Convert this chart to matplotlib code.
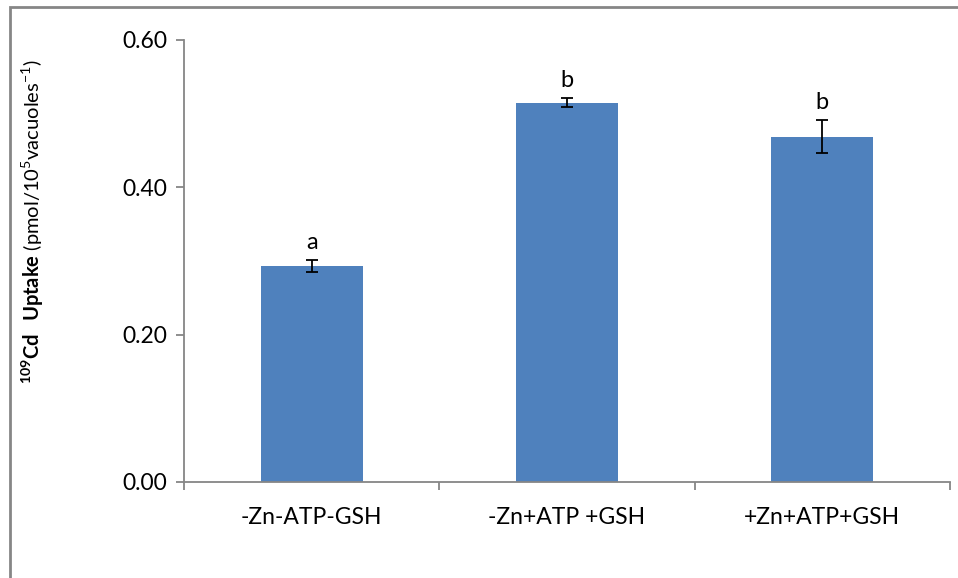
import matplotlib
matplotlib.use("Agg")
import matplotlib.pyplot as plt
import numpy as np
from matplotlib.patches import Rectangle

treatments = ['-Zn-ATP-GSH', '-Zn+ATP +GSH', '+Zn+ATP+GSH']
uptake = [0.293, 0.515, 0.469]
sem = [0.008, 0.006, 0.023]
letters = ['a', 'b', 'b']

plt.rcParams['font.family'] = 'Lato'
plt.rcParams['font.size'] = 16.5
plt.rcParams['mathtext.fontset'] = 'custom'
plt.rcParams['mathtext.rm'] = 'Lato'
plt.rcParams['mathtext.bf'] = 'Lato:bold'

grey = '#868686'
fig = plt.figure(figsize=(9.58, 5.78), dpi=100)
ax = fig.add_axes([184/958, 1-482/578, (950-184)/958, (482-40)/578])

# outer chart border (Excel style)
fig.patches.append(Rectangle((10/958, -0.1), 1.2, 1-7/578+0.1, transform=fig.transFigure,
                             fill=False, edgecolor=grey, linewidth=2))

x = np.arange(len(treatments))
ax.bar(x, uptake, 0.4, color='#4F81BD', zorder=2)
ax.errorbar(x, uptake, yerr=sem, fmt='none', ecolor='black', elinewidth=1.3,
            capsize=4.5, capthick=1.3, zorder=3)
for xi, v, e, l in zip(x, uptake, sem, letters):
    ax.annotate(l, (xi, v+e), xytext=(0, 5), textcoords='offset points',
                ha='center', va='bottom', fontsize=17)

ax.set_xlim(-0.5, 2.5)
ax.set_ylim(0, 0.6)
ax.set_yticks([0, 0.2, 0.4, 0.6])
ax.set_yticklabels(['0.00', '0.20', '0.40', '0.60'])
ax.set_xticks(x)
ax.set_xticklabels(treatments)
ax.set_xticks([-0.5, 0.5, 1.5, 2.5], minor=True)
ax.tick_params(axis='x', which='major', length=0, pad=18)
ax.tick_params(axis='x', which='minor', length=6, color=grey, width=1.3)
ax.tick_params(axis='y', length=6, color=grey, width=1.3, pad=6)
for s in ['top', 'right']:
    ax.spines[s].set_visible(False)
for s in ['left', 'bottom']:
    ax.spines[s].set_color(grey)
    ax.spines[s].set_linewidth(1.3)

fig.text(33/958, 1-222/578,
         r'$\mathbf{^{109}Cd\ \ Uptake}$ (pmol/10$^{5}$vacuoles$^{\mathrm{-1}}$)',
         rotation=90, ha='center', va='center', fontsize=14.5)

fig.savefig('out.png', dpi=100)
